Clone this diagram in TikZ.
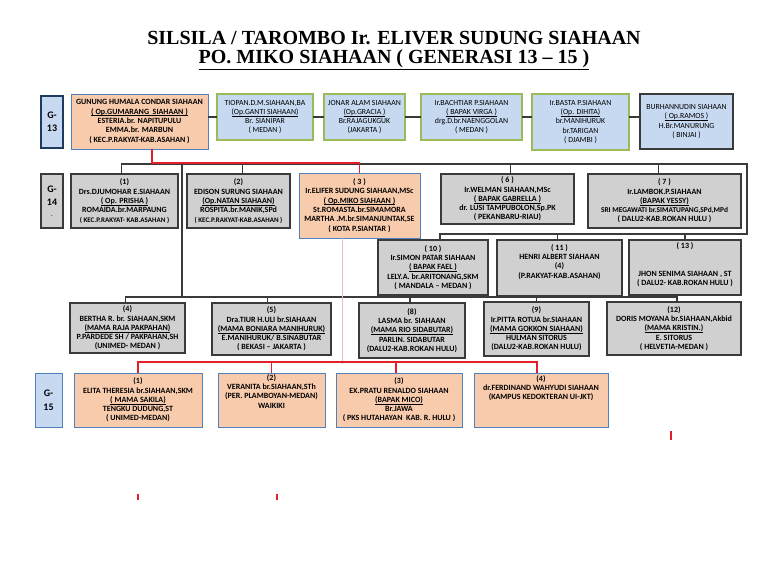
\documentclass[tikz,border=0pt]{standalone}
\usepackage{fontspec}
\setmainfont{Carlito}
\newfontfamily\titlefont{Liberation Serif}
\usetikzlibrary{arrows.meta}
\definecolor{peach}{HTML}{F8CBAD}
\definecolor{peachline}{HTML}{4F81BD}
\definecolor{lblue}{HTML}{C6D9F1}
\definecolor{lgreen}{HTML}{9BBB59}
\definecolor{lgray}{HTML}{D0D0D0}
\definecolor{dgray}{HTML}{3A3A3A}
\definecolor{navy}{HTML}{1F3A5F}
\definecolor{redl}{HTML}{E3202A}
\definecolor{pinkl}{HTML}{F2B6B6}
\newcommand\smallline[1]{{\fontsize{7}{9.2}\selectfont #1}}
\newcommand\ul[1]{\underline{\smash{#1}}}
\tikzset{
 box/.style={rectangle, inner sep=0pt, outer sep=0pt, align=center, font=\fontsize{8}{9.3}\selectfont\bfseries, text=black, anchor=north west},
 obox/.style={box, fill=peach, draw=peachline, line width=1pt},
 bbox/.style={box, fill=lblue, draw=lgreen, line width=1.1pt, font=\fontsize{7.8}{9.3}\selectfont},
 dbox/.style={box, fill=lblue, draw=dgray, line width=1.3pt, font=\fontsize{7.8}{9.3}\selectfont},
 gbox/.style={box, fill=lgray, draw=dgray, line width=1.2pt},
 glabel/.style={box, font=\fontsize{10}{13.5}\selectfont\bfseries},
 conn/.style={draw=dgray, line width=1.1pt},
 redline/.style={draw=redl, line width=1.1pt},
 pinkline/.style={draw=pinkl, line width=0.6pt, -{Latex[color=redl,length=3pt,width=3pt]}},
 redtick/.style={draw=redl, line width=1.2pt},
 titletext/.style={font=\titlefont\bfseries\fontsize{20}{22}\selectfont}
}
\begin{document}
\begin{tikzpicture}[x=1pt,y=-1pt]
\useasboundingbox[fill=white] (0,0) rectangle (768,563);
% title
\node[titletext] (t1) at (394,38) {SILSILA / TAROMBO Ir. ELIVER SUDUNG SIAHAAN};
\node[titletext] (t2) at (394,60) {\underline{PO. MIKO SIAHAAN ( GENERASI 13 – 15 )}};

% generation labels
\node[glabel, fill=lblue, draw=navy, line width=1.4pt, minimum width=22pt, minimum height=52pt] (L13) at (41,96) {G-\\13};
\node[glabel, fill=lgray, draw=dgray, line width=1.3pt, minimum width=22pt, minimum height=54pt] (L14) at (41,174) {G-\\14\\[-3pt]{\fontsize{6}{6}\selectfont .}};
\node[glabel, fill=lblue, draw=peachline, line width=1pt, minimum width=27pt, minimum height=54pt] (L15) at (35,373) {G-\\15};

% G-13 row
\node[obox, minimum width=137pt, minimum height=55pt] (gA) at (71,94) {GUNUNG HUMALA CONDAR SIAHAAN\\\ul{( Op.GUMARANG\ \ SIAHAAN )}\\ESTERIA.br. NAPITUPULU\\EMMA.br. MARBUN\\( KEC.P.RAKYAT-KAB.ASAHAN )};
\node[bbox, minimum width=96pt, minimum height=46pt] (gB) at (217,94) {TIOPAN.D.M.SIAHAAN,BA\\\ul{(Op.GANTI SIAHAAN)}\\Br. SIANIPAR\\( MEDAN )};
\node[bbox, minimum width=81pt, minimum height=46pt] (gC) at (324,94) {JONAR ALAM SIAHAAN\\\ul{(Op.GRACIA )}\\Br.RAJAGUKGUK\\(JAKARTA )};
\node[bbox, minimum width=101pt, minimum height=46pt] (gD) at (421,94) {Ir.BACHTIAR P.SIAHAAN\\\ul{( BAPAK VIRGA )}\\drg.D.br.NAENGGOLAN\\( MEDAN )};
\node[bbox, minimum width=97pt, minimum height=56pt] (gE) at (532,94) {Ir.BASTA P.SIAHAAN\\\ul{(Op. DIHITA)}\\br.MANIHURUK\\br.TARIGAN\\( DJAMBI )};
\node[dbox, minimum width=93pt, minimum height=55pt] (gF) at (640,94) {BURHANNUDIN SIAHAAN\\\ul{( Op.RAMOS )}\\H.Br.MANURUNG\\( BINJAI )};

% G-14 row
\node[gbox, minimum width=107pt, minimum height=54pt] (n1) at (71,174) {(1)\\Drs.DJUMOHAR E.SIAHAAN\\\ul{( Op. PRISHA )}\\ROMAIDA.br.MARPAUNG\\\smallline{( KEC.P.RAKYAT- KAB.ASAHAN )}};
\node[gbox, minimum width=103pt, minimum height=54pt] (n2) at (187,174) {(2)\\EDISON SURUNG SIAHAAN\\\ul{(Op.NATAN SIAHAAN)}\\ROSPITA.br.MANIK,SPd\\\smallline{( KEC.P.RAKYAT-KAB.ASAHAN )}};
\node[obox, minimum width=121pt, minimum height=65pt] (n3) at (299,173) {( 3 )\\Ir.ELIFER SUDUNG SIAHAAN,MSc\\\ul{( Op.MIKO SIAHAAN )}\\St.ROMASTA.br.SIMAMORA\\MARTHA .M.br.SIMANJUNTAK,SE\\( KOTA P.SIANTAR )};
\node[gbox, minimum width=133pt, minimum height=50pt] (n6) at (441,174) {( 6 )\\Ir.WELMAN SIAHAAN,MSc\\\ul{( BAPAK GABRELLA )}\\dr. LUSI TAMPUBOLON,Sp.PK\\( PEKANBARU-RIAU)};
\node[gbox, minimum width=153pt, minimum height=54pt] (n7) at (588,174) {( 7 )\\Ir.LAMBOK.P.SIAHAAN\\\ul{(BAPAK YESSY)}\\{\fontsize{7.4}{9.3}\selectfont SRI MEGAWATI br.SIMATUPANG,SPd,MPd}\\( DALU2-KAB.ROKAN HULU )};

\node[gbox, minimum width=110pt, minimum height=55pt] (n10) at (378,240) {( 10 )\\Ir.SIMON PATAR SIAHAAN\\\ul{( BAPAK FAEL )}\\LELY.A. br.ARITONANG,SKM\\( MANDALA – MEDAN )};
\node[gbox, minimum width=125pt, minimum height=56pt] (n11) at (497,240) {( 11 )\\HENRI ALBERT SIAHAAN\\(4)\\(P.RAKYAT-KAB.ASAHAN)\\[4pt]};
\node[gbox, minimum width=112pt, minimum height=55pt] (n13) at (629,240) {( 13 )\\\mbox{}\\\mbox{}\\JHON SENIMA SIAHAAN , ST\\( DALU2- KAB.ROKAN HULU )\\[-2pt]};

\node[gbox, minimum width=115pt, minimum height=50pt] (n4) at (70,303) {(4)\\BERTHA R. br. SIAHAAN,SKM\\\ul{(MAMA RAJA PAKPAHAN)}\\P.PARDEDE SH / PAKPAHAN,SH\\(UNIMED- MEDAN )};
\node[gbox, minimum width=119pt, minimum height=52pt] (n5) at (212,303) {(5)\\Dra.TIUR H.ULI br.SIAHAAN\\\ul{(MAMA BONIARA MANIHURUK)}\\E.MANIHURUK/ B.SINABUTAR\\( BEKASI – JAKARTA )};
\node[gbox, minimum width=106pt, minimum height=55pt] (n8) at (359,303) {(8)\\LASMA br. SIAHAAN\\\ul{(MAMA RIO SIDABUTAR)}\\PARLIN. SIDABUTAR\\(DALU2-KAB.ROKAN HULU)};
\node[gbox, minimum width=105pt, minimum height=54pt] (n9) at (484,302) {(9)\\Ir.PITTA ROTUA br.SIAHAAN\\\ul{(MAMA GOKKON SIAHAAN)}\\HULMAN SITORUS\\(DALU2-KAB.ROKAN HULU)};
\node[gbox, minimum width=134pt, minimum height=53pt] (n12) at (607,302) {(12)\\DORIS MOYANA br.SIAHAAN,Akbid\\\ul{(MAMA KRISTIN.)}\\E. SITORUS\\( HELVETIA-MEDAN )};

% G-15 row
\node[obox, minimum width=128pt, minimum height=54pt] (m1) at (74,373) {(1)\\ELITA THERESIA br.SIAHAAN,SKM\\\ul{( MAMA SAKILA)}\\TENGKU DUDUNG,ST\\( UNIMED-MEDAN)};
\node[obox, minimum width=107pt, minimum height=54pt] (m2) at (218,373) {(2)\\VERANITA br.SIAHAAN,STh\\(PER. PLAMBOYAN-MEDAN)\\WAIKIKI\\[8pt]};
\node[obox, minimum width=126pt, minimum height=54pt] (m3) at (336,373) {(3)\\EX.PRATU RENALDO SIAHAAN\\\ul{(BAPAK MICO)}\\Br.JAWA\\( PKS HUTAHAYAN\ \ KAB. R. HULU )};
\node[obox, minimum width=134pt, minimum height=54pt] (m4) at (474,373) {(4)\\dr.FERDINAND WAHYUDI SIAHAAN\\(KAMPUS KEDOKTERAN UI-JKT)\\[16pt]};

% G-13 connectors
\coordinate (h13) at (0,117);
\draw[conn] (gA.east |- h13) -- (gB.west |- h13);
\draw[conn] (gB.east |- h13) -- (gC.west |- h13);
\draw[conn] (gC.east |- h13) -- (gD.west |- h13);
\draw[conn] (gD.east |- h13) -- (gE.west |- h13);
\draw[conn] (gE.east |- h13) -- (gF.west |- h13);

% G-14 bus
\coordinate (busL) at (121,164);
\coordinate (busE) at (747,164);
\coordinate (bus2) at (747,234);
\draw[conn] ([xshift=-3pt]n1.north) -- ([xshift=-3pt]n1.north |- busL) -- (busE) -- (bus2) -- ([xshift=7pt]n10.north |- bus2) -- ([xshift=7pt]n10.north);
\draw[conn] ([xshift=4pt]n2.north) -- ([xshift=4pt]n2.north |- busL);
\draw[conn] ([xshift=3pt]n6.north) -- ([xshift=3pt]n6.north |- busL);
\draw[conn] ([xshift=-6pt]n7.north) -- ([xshift=-6pt]n7.north |- busL);
\draw[conn] ([xshift=-2pt]n11.north) -- ([xshift=-2pt]n11.north |- bus2);
\draw[conn] (n13.north) -- (n13.north |- bus2);

% lower bus
\coordinate (vA) at (182,164);
\coordinate (vB) at (182,297);
\draw[conn] (vA) -- (vB);
\draw[conn] ([xshift=-2pt]n4.north) -- ([xshift=-2pt]n4.north |- vB) -- ([xshift=3pt]n12.north |- vB) -- ([xshift=3pt]n12.north);
\draw[conn] ([xshift=-4pt]n5.north) -- ([xshift=-4pt]n5.north |- vB);
\draw[conn] ([xshift=-2pt]n8.north) -- ([xshift=-2pt]n8.north |- vB);
\draw[conn] (n9.north) -- (n9.north |- vB);

% red line G-13 to (3)
\coordinate (busR) at (152,163);
\draw[redline] (busR |- gA.south) -- (busR) -| (n3.north);

% red line (3) to G-15
\coordinate (pk) at (342,0);
\coordinate (r15) at (0,362);
\draw[pinkline] (pk |- n3.south) -- ([yshift=-2pt]pk |- r15);
\draw[redline] (m1.north) -- (m1.north |- r15) -- ([xshift=-4pt]m4.north |- r15) -- ([xshift=-4pt]m4.north);
\draw[redline] (m2.north) -- (m2.north |- r15);
\draw[redline] ([xshift=-3pt]m3.north) -- ([xshift=-3pt]m3.north |- r15);

% stray red marks
\draw[redtick] (138,494) -- (138,500);
\draw[redtick] (277,494) -- (277,500);
\draw[redtick] (671,431) -- (671,440);
\end{tikzpicture}
\end{document}
